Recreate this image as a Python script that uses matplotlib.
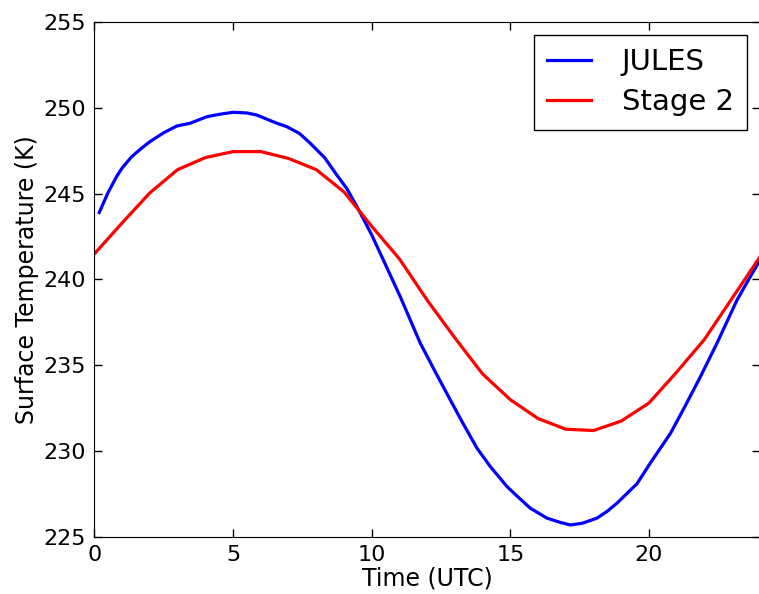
import numpy as np
import matplotlib
matplotlib.use('Agg')
import matplotlib.pyplot as plt

# Stage 2 output, hourly
stage2_hours = np.arange(0, 25)
stage2_temp = [241.5, 243.3, 245.05, 246.4, 247.1, 247.45, 247.45, 247.05, 246.4,
               245.1, 243.1, 241.2, 238.8, 236.6, 234.5, 233.0, 231.9, 231.28,
               231.2, 231.75, 232.8, 234.6, 236.5, 238.9, 241.3]

# JULES output
jules_hours = [0.17, 0.5, 0.8, 1.0, 1.34, 1.7, 2.0, 2.5, 2.97, 3.45, 4.05, 4.5, 5.0,
               5.5, 5.85, 6.58, 6.94, 7.4, 7.78, 8.3, 8.74, 9.1, 9.47, 10.0, 10.43,
               11.03, 11.75, 12.3, 12.83, 13.3, 13.8, 14.28, 14.88, 15.3, 15.72,
               16.32, 16.8, 17.17, 17.6, 18.13, 18.5, 18.85, 19.57, 20.05, 20.78,
               21.3, 21.86, 22.46, 23.18, 23.6, 24.0]
jules_temp = [243.9, 245.1, 246.0, 246.5, 247.15, 247.65, 248.03, 248.55, 248.94,
              249.1, 249.48, 249.62, 249.74, 249.7, 249.58, 249.1, 248.9, 248.5,
              247.94, 247.1, 246.09, 245.3, 244.24, 242.6, 241.1, 239.0, 236.3,
              234.6, 233.0, 231.6, 230.17, 229.1, 227.94, 227.3, 226.68, 226.1,
              225.85, 225.7, 225.8, 226.1, 226.5, 226.97, 228.1, 229.3, 231.04,
              232.6, 234.34, 236.3, 238.8, 240.0, 241.1]

fig = plt.figure(figsize=(7.59, 5.94), dpi=100)
ax = fig.add_axes([0.1245, 0.096, 0.8765, 0.867])

ax.plot(jules_hours, jules_temp, color='b', linewidth=2.3, label='JULES')
ax.plot(stage2_hours, stage2_temp, color='r', linewidth=2.3, label='Stage 2')

ax.set_xlim(0, 24)
ax.set_ylim(225, 255)
ax.set_xticks([0, 5, 10, 15, 20])
ax.set_yticks(np.arange(225, 256, 5))
ax.tick_params(direction='in', length=6, width=1, top=True, right=True,
               labelsize=16, pad=6)
ax.set_xlabel('Time (UTC)', fontsize=17, labelpad=1)
ax.set_ylabel('Surface Temperature (K)', fontsize=17, labelpad=3)

leg = ax.legend(loc='upper right', fontsize=21, fancybox=False, framealpha=1,
                handlelength=1.5, borderpad=0.45, labelspacing=0.42,
                handletextpad=1.05, borderaxespad=0.45)
leg.get_frame().set_edgecolor('black')
leg.get_frame().set_linewidth(1)

fig.savefig('out.png', dpi=100)
